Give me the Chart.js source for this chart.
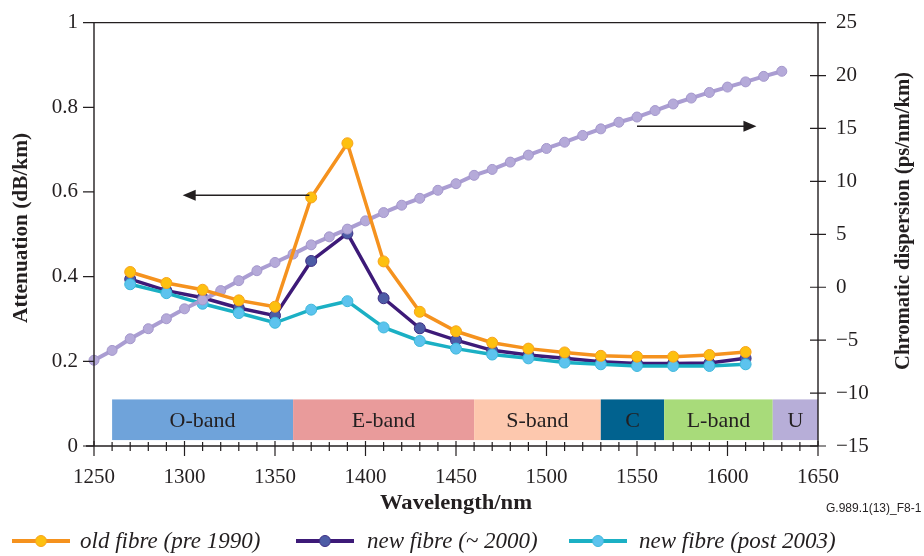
<!DOCTYPE html>
<html><head><meta charset="utf-8">
<script src="https://cdn.jsdelivr.net/npm/chart.js@4.4.1/dist/chart.umd.min.js"></script>
<style>
html,body{margin:0;padding:0;background:#fff;}
#wrap{position:relative;width:924px;height:556px;overflow:hidden;}
#c{position:absolute;left:0;top:0;}
.leg{position:absolute;top:528px;height:26px;font:italic 23px "Liberation Serif",serif;color:#231f20;white-space:nowrap;line-height:26px;}
.sw{position:absolute;height:4px;}
.dot{position:absolute;width:12px;height:12px;border-radius:50%;box-sizing:border-box;border:1px solid;}
#note{position:absolute;left:826px;top:501px;font:12px "Liberation Sans",Arial,sans-serif;color:#231f20;}
</style></head>
<body><div id="wrap"><canvas id="c" width="924" height="556"></canvas>
<div id="legend"></div><div id="note">G.989.1(13)_F8-1</div></div>
<script>
// ---- data ----
const attWavelengths = [1270,1290,1310,1330,1350,1370,1390,1410,1430,1450,1470,1490,1510,1530,1550,1570,1590,1610];
const oldFibre   = [0.411,0.385,0.369,0.344,0.329,0.587,0.715,0.436,0.317,0.271,0.244,0.230,0.221,0.213,0.211,0.211,0.215,0.222];
const newFibre2000 = [0.394,0.367,0.350,0.326,0.308,0.437,0.502,0.349,0.278,0.250,0.226,0.215,0.207,0.199,0.195,0.195,0.196,0.207];
const newFibre2003 = [0.382,0.361,0.336,0.314,0.291,0.322,0.342,0.280,0.248,0.230,0.216,0.207,0.197,0.193,0.189,0.189,0.189,0.193];
const dispWavelengths = [1250,1260,1270,1280,1290,1300,1310,1320,1330,1340,1350,1360,1370,1380,1390,1400,1410,1420,1430,1440,1450,1460,1470,1480,1490,1500,1510,1520,1530,1540,1550,1560,1570,1580,1590,1600,1610,1620,1630];
const dispersion = [-6.9,-5.97,-4.87,-3.92,-2.98,-2.04,-1.2,-0.32,0.62,1.56,2.34,3.13,4.0,4.76,5.49,6.27,7.05,7.75,8.4,9.16,9.78,10.57,11.13,11.82,12.48,13.11,13.7,14.34,14.96,15.59,16.08,16.69,17.31,17.87,18.4,18.91,19.4,19.92,20.4];
const seriesNames = ['old fibre (pre 1990)','new fibre (~ 2000)','new fibre (post 2003)'];
const bandNames = ['O-band','E-band','S-band','C','L-band','U'];
const bandStart = [1260,1360,1460,1530,1565,1625];
const bandEnd   = [1360,1460,1530,1565,1625,1675];
const bandTop = 0.110, bandBottom = 0.014;
const xTitle = 'Wavelength/nm';
const yTitle = 'Attenuation (dB/km)';
const y2Title = 'Chromatic dispersion (ps/nm/km)';

// ---- styles ----
const lineColors = ['#F5921E','#3D1A78','#1BB0C4'];
const markFill   = ['#FDC010','#4D5CA6','#5CC3EE'];
const markBorder = ['#F7A21B','#3D2E85','#3DB8DA'];
const bandColors = ['#6FA3DA','#E99B9B','#FDC8AE','#01628F','#A8DB7A','#B7AED8'];
const ink = '#231f20';
const serif = '"Liberation Serif","Times New Roman",serif';

function pts(xs, ys){ return xs.map((x,i)=>({x:x, y:ys[i]})); }

function fitText(ctx, text, cx, cy, width, rot){
  ctx.save();
  ctx.translate(cx, cy); ctx.rotate(rot);
  const w = ctx.measureText(text).width;
  ctx.scale(width / w, 1);
  ctx.textAlign = 'center'; ctx.textBaseline = 'middle';
  ctx.fillText(text, 0, 0);
  ctx.restore();
}
function arrow(ctx, x0, y0, x1, y1){
  const d = Math.sign(x1-x0);
  ctx.beginPath(); ctx.moveTo(x0,y0); ctx.lineTo(x1 - d*10, y1); ctx.stroke();
  ctx.beginPath(); ctx.moveTo(x1,y1); ctx.lineTo(x1-d*13,y1-5.5); ctx.lineTo(x1-d*13,y1+5.5); ctx.closePath(); ctx.fill();
}

const deco = {
  id:'deco',
  beforeDatasetsDraw(chart){
    const {ctx, scales:{x,y}} = chart;
    ctx.save();
    bandNames.forEach((name,i)=>{
      const s = Math.max(bandStart[i], x.min), e = Math.min(bandEnd[i], x.max);
      const x0 = x.getPixelForValue(s), x1 = x.getPixelForValue(e);
      const yt = y.getPixelForValue(bandTop), yb = y.getPixelForValue(bandBottom);
      ctx.fillStyle = bandColors[i]; ctx.fillRect(x0, yt, x1-x0, yb-yt);
      ctx.fillStyle = ink; ctx.font = '22px ' + serif;
      ctx.textAlign = 'center'; ctx.textBaseline = 'middle';
      ctx.fillText(name, (x0+x1)/2, (yt+yb)/2 + 1);
    });
    ctx.restore();
  },
  afterDraw(chart){
    const {ctx, chartArea:a, scales:{x,y,y2}} = chart;
    ctx.save();
    ctx.strokeStyle = ink; ctx.fillStyle = ink; ctx.lineWidth = 1.4;
    ctx.beginPath();
    ctx.moveTo(a.left, a.top); ctx.lineTo(a.right, a.top);
    ctx.moveTo(a.left, a.top); ctx.lineTo(a.left, a.bottom);
    ctx.moveTo(a.right, a.top); ctx.lineTo(a.right, a.bottom);
    ctx.moveTo(a.left-8, a.bottom); ctx.lineTo(a.right, a.bottom);
    ctx.stroke();
    ctx.lineWidth = 1.2;
    ctx.beginPath();
    y.ticks.forEach(t=>{ const p = y.getPixelForValue(t.value); ctx.moveTo(a.left-11, p); ctx.lineTo(a.left, p); });
    y2.ticks.forEach(t=>{ const p = y2.getPixelForValue(t.value); ctx.moveTo(a.right-8, p); ctx.lineTo(a.right+8, p); });
    for (let v = x.min; v <= x.max; v += 10){
      const p = x.getPixelForValue(v);
      if (v % 50 === 0){ ctx.moveTo(p, a.bottom-5); ctx.lineTo(p, a.bottom+10); }
      else { ctx.moveTo(p, a.bottom-4); ctx.lineTo(p, a.bottom+5); }
    }
    ctx.stroke();
    ctx.lineWidth = 1.5;
    arrow(ctx, x.getPixelForValue(1369), y.getPixelForValue(0.592), x.getPixelForValue(1299), y.getPixelForValue(0.592));
    arrow(ctx, x.getPixelForValue(1550), y2.getPixelForValue(15.2), x.getPixelForValue(1616), y2.getPixelForValue(15.2));
    ctx.font = 'bold 21px ' + serif;
    fitText(ctx, yTitle, 22, 228, 190, -Math.PI/2);
    fitText(ctx, y2Title, 904, 221, 298, -Math.PI/2);
    ctx.font = 'bold 22px ' + serif;
    fitText(ctx, xTitle, 456, 503, 152, 0);
    ctx.restore();
  }
};

const tickFont = {family: serif, size: 21};
const datasets = [
  {label: seriesNames[0], data: pts(attWavelengths, oldFibre), yAxisID:'y', order:0},
  {label: seriesNames[1], data: pts(attWavelengths, newFibre2000), yAxisID:'y', order:3},
  {label: seriesNames[2], data: pts(attWavelengths, newFibre2003), yAxisID:'y', order:2},
].map((d,i)=>Object.assign(d,{
  borderColor: lineColors[i], borderWidth: 3.5, pointRadius: 5.5, pointBorderWidth: 1,
  pointBackgroundColor: markFill[i], pointBorderColor: markBorder[i], tension: 0, clip: false
}));
datasets.push({label:'Chromatic dispersion', data: pts(dispWavelengths, dispersion), yAxisID:'y2', order:1,
  borderColor:'#AA9DD2', borderWidth:4, pointRadius:5, pointBorderWidth:1,
  pointBackgroundColor:'#B5AAD9', pointBorderColor:'#A497CC', tension:0, clip:false});

new Chart(document.getElementById('c'), {
  type:'line',
  data:{datasets},
  options:{
    responsive:false, animation:false, devicePixelRatio:1,
    layout:{padding:{top:21,left:0,right:0,bottom:0}},
    plugins:{legend:{display:false}, tooltip:{enabled:false}},
    scales:{
      x:{type:'linear', min:1250, max:1650,
        ticks:{stepSize:50, font:tickFont, color:ink, padding:9, maxRotation:0, callback:v=>String(v)},
        grid:{drawOnChartArea:false, color:'rgba(0,0,0,0)', tickLength:10}, border:{display:false},
        afterFit(s){ s.height = 110; }},
      y:{type:'linear', position:'left', min:0, max:1,
        ticks:{stepSize:0.2, font:tickFont, color:ink, padding:5, callback:v=>String(+v.toFixed(1))},
        grid:{drawOnChartArea:false, color:'rgba(0,0,0,0)', tickLength:11}, border:{display:false},
        afterFit(s){ s.width = 94; }},
      y2:{type:'linear', position:'right', min:-15, max:25,
        ticks:{stepSize:5, font:tickFont, color:ink, padding:10, callback:v=>(v<0?'\u2212'+Math.abs(v):String(v))},
        grid:{drawOnChartArea:false, color:'rgba(0,0,0,0)', tickLength:8}, border:{display:false},
        afterFit(s){ s.width = 106; }}
    }
  },
  plugins:[deco]
});

// HTML legend
const legPos = [{line:12, text:80},{line:296, text:367},{line:569, text:639}];
const legEl = document.getElementById('legend');
seriesNames.forEach((n,i)=>{
  const L = legPos[i];
  const sw = document.createElement('div'); sw.className='sw';
  sw.style.cssText += `left:${L.line}px;width:58px;top:539px;background:${lineColors[i]}`;
  const dot = document.createElement('div'); dot.className='dot';
  dot.style.cssText += `left:${L.line+23}px;top:535px;background:${markFill[i]};border-color:${markBorder[i]}`;
  const t = document.createElement('div'); t.className='leg'; t.textContent = n;
  t.style.left = L.text + 'px';
  legEl.appendChild(sw); legEl.appendChild(dot); legEl.appendChild(t);
});
</script>
</body></html>
